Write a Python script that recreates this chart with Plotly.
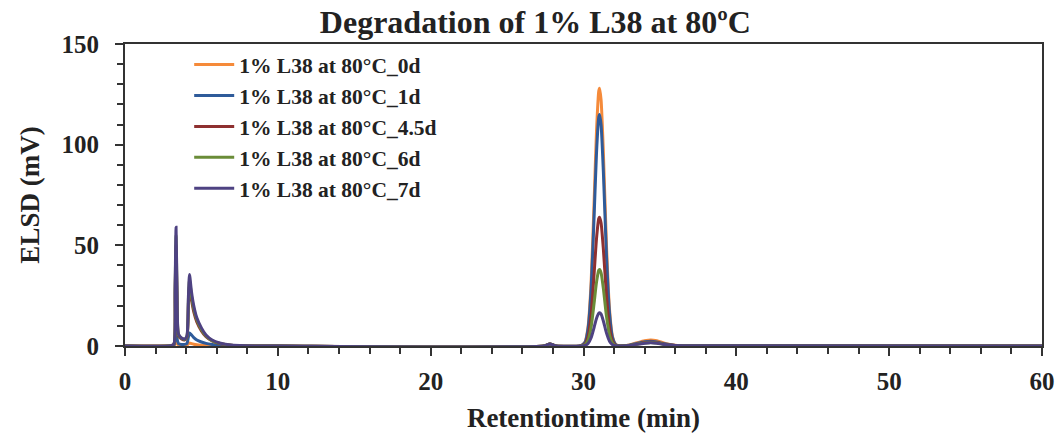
import plotly.graph_objects as go

# Retention time grid (min)
time_min = [0, 3.0, 3.2, 3.28, 3.34, 3.40, 3.5, 3.7, 3.9, 4.05, 4.15, 4.22, 4.35, 4.5, 4.7,
            5.0, 5.3, 5.7, 6.2, 6.8, 7.5, 8.5, 10, 27.4, 27.8, 28.2,
            29.8, 30.1, 30.3, 30.5, 30.7, 30.85, 31.0, 31.05, 31.15, 31.3, 31.5, 31.7, 31.9, 32.1, 32.3,
            32.6, 33.0, 33.5, 34.0, 34.4, 34.8, 35.3, 36.0, 37, 60]

series_names = ["1% L38 at 80°C_0d", "1% L38 at 80°C_1d", "1% L38 at 80°C_4.5d",
                "1% L38 at 80°C_6d", "1% L38 at 80°C_7d"]

elsd_0d = [0, 0, 0.2, 1.5, 3, 1.5, 0.5, 0.3, 0.3, 0.4, 1.2, 1.5, 1.2, 0.9, 0.6,
           0.4, 0.3, 0.2, 0.1, 0.05, 0, 0, 0, 0, 1.0, 0,
           0.1, 2.0, 9.7, 31.9, 73.0, 106.5, 126.6, 128, 122.2, 96.1, 50.6, 18.4, 4.6, 0.8, 0.1,
           0.1, 0.5, 1.6, 2.6, 3.0, 2.6, 1.4, 0.4, 0.1, 0]
elsd_1d = [0, 0, 0.3, 4, 8, 4, 1.2, 0.8, 0.8, 1.2, 4.5, 6.5, 5.5, 4.2, 3.0,
           2.0, 1.3, 0.8, 0.4, 0.15, 0.05, 0, 0, 0, 1.0, 0,
           0.1, 1.8, 8.7, 28.6, 65.6, 95.7, 113.7, 115, 109.8, 86.4, 45.4, 16.6, 4.1, 0.7, 0.1,
           0.1, 0.4, 1.3, 2.1, 2.4, 2.0, 1.1, 0.3, 0.1, 0]
elsd_4_5d = [0, 0.1, 0.8, 25, 50, 25, 5, 3.5, 3.0, 4.2, 21, 30, 23, 17, 12,
             7.5, 4.6, 2.5, 1.2, 0.5, 0.15, 0.04, 0, 0, 1.0, 0,
             0.05, 1.0, 4.9, 15.9, 36.5, 53.2, 63.3, 64, 61.1, 48.1, 25.3, 9.2, 2.3, 0.4, 0.05,
             0.05, 0.3, 1.0, 1.7, 2.0, 1.7, 0.9, 0.3, 0.1, 0]
elsd_6d = [0, 0.15, 0.9, 28, 55, 28, 5.5, 3.8, 3.3, 4.6, 23, 33, 25, 18.5, 13,
           8.2, 5.0, 2.7, 1.3, 0.55, 0.18, 0.05, 0, 0, 1.0, 0,
           0.03, 0.6, 2.9, 9.5, 21.7, 31.6, 37.6, 38, 36.3, 28.5, 15.0, 5.5, 1.4, 0.2, 0.03,
           0.05, 0.3, 0.9, 1.5, 1.8, 1.5, 0.8, 0.2, 0.1, 0]
elsd_7d = [0, 0.2, 1.0, 30, 59, 30, 6, 4, 3.5, 5, 25, 35.5, 27, 20, 14,
           9, 5.5, 3, 1.5, 0.6, 0.2, 0.05, 0, 0, 1.0, 0,
           0.01, 0.26, 1.25, 4.1, 9.4, 13.7, 16.3, 16.5, 15.8, 12.4, 6.5, 2.4, 0.6, 0.1, 0.01,
           0.05, 0.3, 0.9, 1.4, 1.6, 1.4, 0.7, 0.2, 0.1, 0]

series_values = [elsd_0d, elsd_1d, elsd_4_5d, elsd_6d, elsd_7d]
colors = ["#F58A3A", "#2F5B9A", "#8E3030", "#6A8C38", "#4E4282"]

x_ticks = [0, 10, 20, 30, 40, 50, 60]
y_ticks = [0, 50, 100, 150]

font_family = "Liberation Serif"
text_color = "#222222"

fig = go.Figure()
for i, (name, vals, col) in enumerate(zip(series_names, series_values, colors)):
    fig.add_trace(go.Scatter(x=time_min, y=vals, mode="lines", name=f"<b>{name}</b>",
                             legendgroup=f"g{i}",
                             line=dict(color=col, width=3, shape="spline", smoothing=0.6)))

axis_color = "#333333"
fig.update_layout(
    width=1058, height=434,
    margin=dict(l=125, r=16, t=44, b=88),
    paper_bgcolor="white", plot_bgcolor="white",
    font=dict(family=font_family, color=text_color),
    title=dict(text="<b>Degradation of 1% L38 at 80ºC</b>", x=0.506, xanchor="center",
               y=0.949, yanchor="middle", font=dict(size=32, family=font_family, color=text_color)),
    showlegend=True,
    legend=dict(x=0.07, y=1.0, xanchor="left", yanchor="top", bgcolor="rgba(0,0,0,0)",
                font=dict(size=21.5, family=font_family, color=text_color),
                tracegroupgap=0, itemwidth=40),
    xaxis=dict(range=[0, 60], tickvals=x_ticks, ticktext=[f"<b>{v}</b>" for v in x_ticks],
               automargin=False, ticklabeloverflow="allow",
               showgrid=False, zeroline=False, showline=True, linecolor=axis_color, linewidth=2,
               mirror=True, ticks="outside", ticklen=8, tickwidth=2, tickcolor=axis_color,
               ticklabelstandoff=4,
               minor=dict(dtick=2, ticks="outside", ticklen=6, tickwidth=2, tickcolor=axis_color),
               tickfont=dict(size=25, family=font_family, color=text_color),
               title=dict(text="<b>Retentiontime (min)</b>", standoff=14,
                          font=dict(size=27, family=font_family, color=text_color))),
    yaxis=dict(range=[0, 150], tickvals=y_ticks, ticktext=[f"<b>{v}</b>" for v in y_ticks],
               automargin=False,
               showgrid=False, zeroline=False, showline=True, linecolor=axis_color, linewidth=2,
               mirror=True, ticks="outside", ticklen=8, tickwidth=2, tickcolor=axis_color,
               ticklabelstandoff=11,
               minor=dict(dtick=10, ticks="outside", ticklen=6, tickwidth=2, tickcolor=axis_color),
               tickfont=dict(size=25, family=font_family, color=text_color),
               title=dict(text="<b>ELSD (mV)</b>", standoff=14,
                          font=dict(size=27, family=font_family, color=text_color))),
)

# remove the browser's default 8px body margin so the figure fills the window exactly
fig.write_html("out.html", config={"displayModeBar": False},
               post_script="document.body.style.margin='0';")
